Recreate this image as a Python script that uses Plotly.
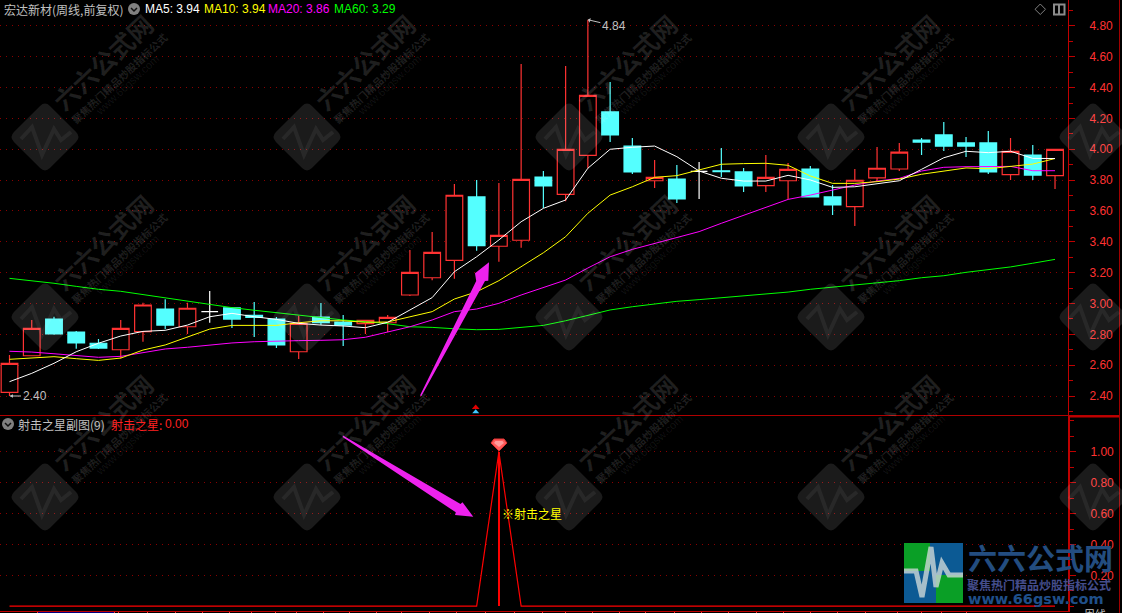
import plotly.graph_objects as go

# ---------- data ----------
opens = [2.424,2.661,2.899,2.815,2.742,2.700,2.817,2.964,2.849,2.947,2.971,2.923,2.899,2.687,2.912,2.880,2.869,2.875,
         3.055,3.167,3.280,3.691,3.371,3.410,3.820,3.708,3.961,4.242,4.021,3.796,3.807,3.857,3.860,3.853,3.764,3.796,
         3.872,3.691,3.628,3.814,3.872,4.060,4.093,4.041,4.041,3.835,3.963,3.829]
closes = [2.612,2.839,2.802,2.744,2.711,2.839,2.990,2.860,2.969,2.947,2.899,2.910,2.731,2.871,2.875,2.860,2.891,2.910,
          3.202,3.332,3.702,3.375,3.442,3.805,3.762,4.000,4.350,4.093,3.853,3.818,3.678,3.857,3.855,3.762,3.818,3.870,
          3.691,3.639,3.799,3.877,3.982,4.047,4.021,4.021,3.853,3.987,3.833,4.000]
highs = [2.666,2.893,2.914,2.822,2.770,2.893,3.005,3.027,3.005,3.081,2.977,3.010,2.912,2.921,3.003,2.925,2.891,2.925,
         3.347,3.464,3.775,3.801,3.781,4.553,3.859,4.540,4.840,4.436,4.073,3.930,3.898,3.918,4.008,3.879,3.963,3.911,
         3.892,3.768,3.872,4.015,4.041,4.073,4.177,4.080,4.118,4.073,4.028,4.000]
lows = [2.400,2.661,2.798,2.707,2.705,2.644,2.752,2.834,2.802,2.875,2.841,2.783,2.711,2.640,2.860,2.724,2.802,2.815,
        3.049,3.150,3.161,3.342,3.271,3.362,3.619,3.663,3.877,4.047,3.840,3.749,3.652,3.678,3.820,3.723,3.723,3.678,
        3.691,3.574,3.502,3.794,3.859,3.963,3.989,3.950,3.840,3.801,3.801,3.742]
ma5 = [2.493,2.547,2.612,2.687,2.742,2.789,2.819,2.826,2.860,2.914,2.936,2.914,2.897,2.871,2.860,2.854,2.843,2.878,
       2.958,3.038,3.206,3.303,3.412,3.530,3.617,3.671,3.877,4.000,4.013,4.021,3.952,3.859,3.812,3.794,3.794,3.831,
       3.801,3.753,3.757,3.775,3.796,3.870,3.945,3.987,3.978,3.987,3.941,3.940]
ma10 = [2.638,2.648,2.655,2.642,2.631,2.646,2.698,2.731,2.785,2.834,2.858,2.860,2.858,2.875,2.888,2.888,2.878,2.880,
        2.914,2.947,3.029,3.076,3.148,3.239,3.329,3.433,3.585,3.703,3.757,3.818,3.829,3.866,3.903,3.907,3.909,3.896,
        3.827,3.779,3.779,3.790,3.807,3.838,3.859,3.879,3.874,3.887,3.904,3.940]
ma20 = [2.690,2.685,2.674,2.661,2.651,2.657,2.683,2.705,2.716,2.731,2.744,2.752,2.757,2.759,2.761,2.765,2.781,2.813,
        2.849,2.893,2.947,2.964,3.001,3.055,3.105,3.152,3.230,3.303,3.351,3.390,3.425,3.466,3.520,3.572,3.628,3.675,
        3.703,3.736,3.768,3.794,3.811,3.859,3.883,3.887,3.889,3.889,3.861,3.861]
ma60 = [3.163,3.148,3.131,3.111,3.092,3.079,3.057,3.037,3.014,2.995,2.973,2.956,2.940,2.925,2.908,2.893,2.882,2.869,
        2.849,2.845,2.836,2.830,2.832,2.845,2.858,2.888,2.925,2.958,2.979,2.997,3.014,3.025,3.037,3.050,3.061,3.074,
        3.092,3.105,3.118,3.131,3.148,3.167,3.180,3.202,3.219,3.237,3.261,3.286]
signal = [0]*22 + [1] + [0]*25
white_doji = [9, 31]
price_ticks = [2.4,2.6,2.8,3.0,3.2,3.4,3.6,3.8,4.0,4.2,4.4,4.6,4.8]
sub_ticks = [0.2,0.4,0.6,0.8,1.0]
month_ticks = [1.24,4.74,4.92,6.2,7.44,8.66,9.9,10.9,11.94,12.92,14.1,15.3,16.5,17.6,18.9,20.1,21.4,22.7,23.96,25,
               26.2,27.4,28.6,29.9,31.1,32.3,33.6,34.8,36,37.2,38.5,39.9,41,41.9,43]
idx = list(range(len(opens)))

W, H = 1122, 613
RED, CYAN = "#ff3232", "#54ffff"
AXIS = "#c00000"
GRID = "#8a0000"
CJK = "Noto Sans CJK SC"
LAT = "Liberation Sans"

def px(x): return x / W
def py(y): return 1 - y / H

def poly(points, close=True):
    s = "M " + " L ".join(f"{px(a):.5f},{py(b):.5f}" for a, b in points)
    return s + (" Z" if close else "")

shapes, annos = [], []

def add_poly(points, fill=None, line=None, lw=1, close=True):
    shapes.append(dict(type="path", xref="paper", yref="paper", path=poly(points, close),
                       fillcolor=fill if fill else "rgba(0,0,0,0)",
                       line=dict(color=line if line else "rgba(0,0,0,0)", width=lw if line else 0), layer="above"))

def txt(x, y, s, color, size, family=LAT, anchor="left", angle=0, bold=False):
    annos.append(dict(xref="paper", yref="paper", x=px(x), y=py(y), text=f"<b>{s}</b>" if bold else s,
                      showarrow=False, xanchor=anchor, yanchor="middle", textangle=angle, borderpad=0,
                      font=dict(color=color, size=size, family=family)))

# ---------- watermark ----------
def rounded_diamond(cx, cy, r=36, c=7):
    pts = [(cx, cy - r), (cx + r, cy), (cx, cy + r), (cx - r, cy)]
    segs = []
    n = len(pts)
    for i in range(n):
        p, a, b = pts[i - 1], pts[i], pts[(i + 1) % n]
        def toward(u, v, d):
            L = ((v[0]-u[0])**2 + (v[1]-u[1])**2) ** .5
            return (u[0] + (v[0]-u[0]) * d / L, u[1] + (v[1]-u[1]) * d / L)
        s1, s2 = toward(a, p, c), toward(a, b, c)
        segs.append(("M" if i == 0 else "L") + f" {px(s1[0]):.5f},{py(s1[1]):.5f} Q {px(a[0]):.5f},{py(a[1]):.5f} {px(s2[0]):.5f},{py(s2[1]):.5f}")
    return " ".join(segs) + " Z"

for row in (137, 317, 497):
    for col in (45, 307, 569, 831, 1093):
        shapes.append(dict(type="path", xref="paper", yref="paper", path=rounded_diamond(col, row),
                           fillcolor="rgba(255,255,255,0.105)", line=dict(width=0), layer="above"))
        add_poly([(col-24, row+2), (col-13, row-10), (col-3, row+18), (col+9, row-8), (col+16, row+3), (col+26, row-5)],
                 line="rgba(255,255,255,0.06)", lw=4, close=False)
        if col < 1093:
            txt(col+57, row-75, "六六公式网", "rgba(255,255,255,0.12)", 25, CJK, "center", -43, True)
            txt(col+74, row-59, "聚焦热门精品炒股指标公式", "rgba(255,255,255,0.13)", 10.5, CJK, "center", -43, True)
            txt(col+82, row-52, "www.66gsw.com", "rgba(255,255,255,0.08)", 11, LAT, "center", -43)

# ---------- frame ----------
for a, b in [((0, 415.5), (1120, 415.5))]:
    shapes.append(dict(type="line", xref="paper", yref="paper", x0=px(a[0]), x1=px(b[0]), y0=py(a[1]), y1=py(b[1]),
                       line=dict(color="#b00000", width=1), layer="below"))
shapes.append(dict(type="line", xref="paper", yref="paper", x0=px(1068), x1=px(1120), y0=py(416.5), y1=py(416.5),
                   line=dict(color=AXIS, width=2), layer="below"))
shapes.append(dict(type="line", xref="paper", yref="paper", x0=px(1119.5), x1=px(1119.5), y0=0, y1=1,
                   line=dict(color="#a00000", width=1), layer="below"))
shapes.append(dict(type="rect", xref="paper", yref="paper", x0=px(37), x1=px(115), y0=0, y1=py(611),
                   fillcolor="#000080", line=dict(width=0), layer="below"))

# ---------- magenta arrows ----------
add_poly([(420,395.5),(421.4,396),(485,281),(488.3,280.7),(489,262.3),(475,273.3),(476.2,281)], fill="#ee22ee")
add_poly([(343,435.5),(342.6,437),(455.8,512.3),(455,515),(473.3,516.7),(462.5,502.3),(460.5,504)], fill="#ee22ee")

# ---------- small glyphs ----------
add_poly([(475.7,404.5),(471.8,409),(479.6,409)], fill="#e00000")
add_poly([(475.7,409.3),(472.2,413.2),(479.2,413.2)], fill="#40c8ff")
add_poly([(494,439),(504,439),(507,443),(499,451),(491,443)], fill="#ff5a5a", line="#e03030")
add_poly([(495.5,441),(502.5,441),(504,443),(499,447),(494,443)], fill="#ff9a9a")
add_poly([(1040.3,4),(1045.5,9.3),(1040.3,14.5),(1035,9.3)], line="#808080")
shapes.append(dict(type="rect", xref="paper", yref="paper", x0=px(1054), x1=px(1064.5), y0=py(14.5), y1=py(4.5),
                   line=dict(color="#8c8c8c", width=2), layer="above"))
add_poly([(1059,5),(1059,14)], line="#8c8c8c", lw=2, close=False)
for cx, cy in ((134, 9), (8, 424)):
    shapes.append(dict(type="circle", xref="paper", yref="paper", x0=px(cx-6), x1=px(cx+6), y0=py(cy+6), y1=py(cy-6),
                       fillcolor="#808080", line=dict(width=0), layer="above"))
    add_poly([(cx-3, cy-1), (cx, cy+2), (cx+3, cy-1)], line="#101010", lw=1.5, close=False)

# ---------- logo ----------
L, T, R, B = 904, 543, 963, 603
MX, MY = 933, 573
shapes.append(dict(type="rect", xref="paper", yref="paper", x0=px(L), x1=px(R), y0=py(B), y1=py(T),
                   fillcolor="#0c5a94", line=dict(width=0), layer="above"))
add_poly([(L, T), (MX-3, T), (MX-3, 571), (L, 571)], fill="#0a9f26")
add_poly([(MX+3, 575), (R, 575), (R, B), (MX+3, B)], fill="#0a9f26")
add_poly([(L,571),(916,571),(922,597),(931,547),(936,587),(942,563),(949,575),(R,575)],
         line="rgba(205,215,215,0.8)", lw=5, close=False)
txt(1040, 557, "六六公式网", "#234d80", 29, CJK, "center", 0, True)
txt(1038.5, 584, "聚焦热门精品炒股指标公式", "#444d8c", 12, CJK, "center", 0, True)
txt(1036, 599, "www.66gsw.com", "#1f4f8a", 14.5, "DejaVu Sans", "center", 0, True)

# ---------- texts ----------
txt(3, 9, "宏达新材(周线,前复权)", "#c0c0c0", 12, CJK)
txt(144, 9, "MA5: 3.94", "#ffffff", 12)
txt(203, 9, "MA10: 3.94", "#ffff00", 12)
txt(267, 9, "MA20: 3.86", "#ff00ff", 12)
txt(333, 9, "MA60: 3.29", "#00ff00", 12)
txt(17, 424, "射击之星副图(9)", "#c0c0c0", 12, CJK)
txt(110, 424, "射击之星:", "#ff2020", 12, CJK)
txt(164, 424, "0.00", "#ff2020", 12)
txt(501, 513, "※射击之星", "#ffff00", 12, CJK)
txt(1095, 614, "周线", "#c0c0c0", 11, CJK, "center")

annos.append(dict(x=26, y=highs[26], xref="x", yref="y", text="4.84", ax=26, ay=6, showarrow=True, arrowhead=1, arrowsize=0.8,
                  arrowwidth=1, arrowcolor="#c0c0c0", font=dict(color="#c0c0c0", size=12, family=LAT)))
annos.append(dict(x=0, y=lows[0], xref="x", yref="y", text="2.40", ax=25, ay=0, showarrow=True, arrowhead=2, arrowsize=0.7,
                  arrowwidth=1, arrowcolor="#c0c0c0", font=dict(color="#c0c0c0", size=12, family=LAT)))

# ---------- traces ----------
fig = go.Figure()
main = [i for i in idx if i not in white_doji]
fig.add_trace(go.Candlestick(
    x=main, open=[opens[i] for i in main], high=[highs[i] for i in main],
    low=[lows[i] for i in main], close=[closes[i] for i in main],
    increasing=dict(line=dict(color=RED, width=1.2), fillcolor="#000000"),
    decreasing=dict(line=dict(color=CYAN, width=1.2), fillcolor=CYAN),
    xaxis="x", yaxis="y", hoverinfo="skip"))
fig.add_trace(go.Candlestick(
    x=white_doji, open=[opens[i] for i in white_doji], high=[highs[i] for i in white_doji],
    low=[lows[i] for i in white_doji], close=[closes[i] for i in white_doji],
    increasing=dict(line=dict(color="#ffffff", width=1.2), fillcolor="#ffffff"),
    decreasing=dict(line=dict(color="#ffffff", width=1.2), fillcolor="#ffffff"),
    xaxis="x", yaxis="y", hoverinfo="skip"))
for vals, col in ((ma60, "#00ff00"), (ma20, "#ff00ff"), (ma10, "#ffff00"), (ma5, "#ffffff")):
    fig.add_trace(go.Scatter(x=idx, y=vals, mode="lines", line=dict(color=col, width=1), xaxis="x", yaxis="y", hoverinfo="skip"))
fig.add_trace(go.Bar(x=idx, y=signal, width=0.07, marker=dict(color="#ff0000", line=dict(width=0)), xaxis="x", yaxis="y2", hoverinfo="skip"))
fig.add_trace(go.Scatter(x=idx, y=signal, mode="lines", line=dict(color="#ff0000", width=1.2), xaxis="x", yaxis="y2", hoverinfo="skip"))

X0 = -9.5 / 22.245
X1 = (1068 - 9.5) / 22.245
price = lambda y: 2.4 + (396 - y) / 154.2
sub = lambda y: (606.2 - y) / 154.4
common_y = dict(side="right", anchor="x", showline=True, linecolor=AXIS, ticks="outside", tickcolor=AXIS,
                ticklen=6, tickwidth=1, ticklabelstandoff=12, tickfont=dict(color=RED, size=12, family=LAT),
                showgrid=True, gridcolor=GRID, griddash="1px,5px", gridwidth=1, zeroline=False, tickformat=".2f",
                tickmode="array", fixedrange=True)
fig.update_layout(
    width=W, height=H, margin=dict(l=0, r=0, t=0, b=0), paper_bgcolor="#000000", plot_bgcolor="#000000",
    showlegend=False, boxgap=0.25, boxgroupgap=0, bargap=0, shapes=shapes, annotations=annos,
    xaxis=dict(domain=[0, 1068 / W], range=[X0, X1], anchor="y2", showgrid=False, zeroline=False, showline=True,
               linecolor=AXIS, ticks="outside", tickcolor=RED, ticklen=3, tickvals=month_ticks, showticklabels=False,
               rangeslider=dict(visible=False), fixedrange=True),
    yaxis=dict(domain=[1 - 415 / H, 1], range=[price(415), price(0)], tickvals=price_ticks,
               minor=dict(ticks="outside", dtick=0.1, tick0=2.4, ticklen=4, tickcolor=AXIS, showgrid=False),
               linewidth=1, **common_y),
    yaxis2=dict(domain=[1 - 610.7 / H, 1 - 416 / H], range=[sub(610.7), sub(416)], tickvals=sub_ticks,
                minor=dict(ticks="outside", dtick=0.1, tick0=0, ticklen=4, tickcolor=AXIS, showgrid=False),
                linewidth=2, **common_y),
)
fig.write_html("out.html", config=dict(displayModeBar=False), post_script="document.body.style.margin='0';document.body.style.background='#000';")
